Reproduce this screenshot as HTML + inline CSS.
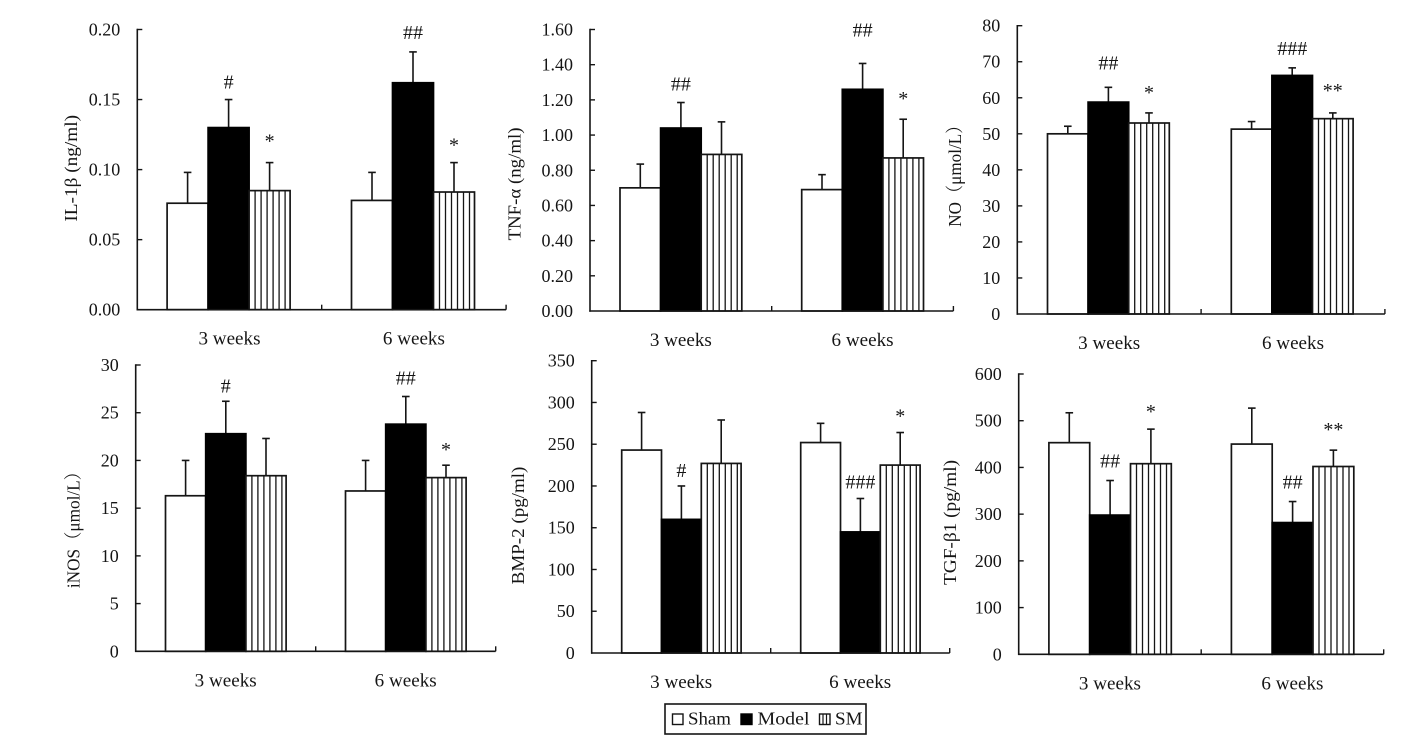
<!DOCTYPE html>
<html lang="en">
<head>
<meta charset="utf-8">
<title>Cytokine and growth factor levels at 3 and 6 weeks</title>
<style>
  html, body { margin: 0; padding: 0; background: #fff; }
  svg { display: block; }
  text { font-family: "Liberation Serif", "Noto Serif CJK SC", serif; fill: #151515; }
</style>
</head>
<body>
<svg id="figure" xmlns="http://www.w3.org/2000/svg" width="1417" height="744" viewBox="0 0 1417 744">
  <g>
    <rect x="665" y="704" width="201" height="30" fill="#fff" stroke="#151515" stroke-width="1.6"/>
    <g>
      <rect x="672.5" y="714" width="10.5" height="10.5" fill="#fff" stroke="#151515" stroke-width="1.4"/>
      <text x="688" y="724.5" font-size="18" textLength="43" lengthAdjust="spacingAndGlyphs">Sham</text>
    </g>
    <g>
      <rect x="741" y="714" width="11" height="10.5" fill="#000" stroke="#000" stroke-width="1.4"/>
      <text x="757.5" y="724.5" font-size="18" textLength="52" lengthAdjust="spacingAndGlyphs">Model</text>
    </g>
    <g>
      <rect x="819.5" y="714" width="10.5" height="10.5" fill="#fff" stroke="#151515" stroke-width="1.4"/>
      <line x1="823" y1="714" x2="823" y2="724.5" stroke="#151515" stroke-width="1.2"/>
      <line x1="826.5" y1="714" x2="826.5" y2="724.5" stroke="#151515" stroke-width="1.2"/>
      <text x="835" y="724.5" font-size="18" textLength="27.5" lengthAdjust="spacingAndGlyphs">SM</text>
    </g>
  </g>
</svg>
<script>
// Shared categories and series
const categories = ['3 weeks', '6 weeks'];
const seriesNames = ['Sham', 'Model', 'SM'];

// IL-1beta (ng/ml)
const il1bTicks = ['0.00', '0.05', '0.10', '0.15', '0.20'];
const il1bMeans = [[0.076, 0.130, 0.085], [0.078, 0.162, 0.084]];
const il1bErrors = [[0.022, 0.020, 0.020], [0.020, 0.022, 0.021]];
const il1bMarks = [['', '#', '*'], ['', '##', '*']];

// TNF-alpha (ng/ml)
const tnfTicks = ['0.00', '0.20', '0.40', '0.60', '0.80', '1.00', '1.20', '1.40', '1.60'];
const tnfMeans = [[0.70, 1.04, 0.89], [0.69, 1.26, 0.87]];
const tnfErrors = [[0.135, 0.145, 0.185], [0.085, 0.147, 0.22]];
const tnfMarks = [['', '##', ''], ['', '##', '*']];

// NO (umol/L)
const noTicks = ['0', '10', '20', '30', '40', '50', '60', '70', '80'];
const noMeans = [[50, 58.8, 53], [51.3, 66.2, 54.2]];
const noErrors = [[2.1, 4.1, 2.8], [2.1, 2.1, 1.6]];
const noMarks = [['', '##', '*'], ['', '###', '**']];

// iNOS (umol/L)
const inosTicks = ['0', '5', '10', '15', '20', '25', '30'];
const inosMeans = [[16.3, 22.8, 18.4], [16.8, 23.8, 18.2]];
const inosErrors = [[3.7, 3.4, 3.9], [3.2, 2.9, 1.3]];
const inosMarks = [['', '#', ''], ['', '##', '*']];

// BMP-2 (pg/ml)
const bmpTicks = ['0', '50', '100', '150', '200', '250', '300', '350'];
const bmpMeans = [[243, 160, 227], [252, 145, 225]];
const bmpErrors = [[45, 40, 52], [23, 40, 39]];
const bmpMarks = [['', '#', ''], ['', '###', '*']];

// TGF-beta1 (pg/ml)
const tgfTicks = ['0', '100', '200', '300', '400', '500', '600'];
const tgfMeans = [[453, 298, 408], [450, 282, 402]];
const tgfErrors = [[64, 74, 74], [77, 45, 35]];
const tgfMarks = [['', '##', '*'], ['', '##', '**']];

// Layout of each panel; data comes from the arrays above
const panels = [
  { id: 'il-1b', title: 'IL-1β (ng/ml)', ticks: il1bTicks, means: il1bMeans, errors: il1bErrors, marks: il1bMarks,
    ax: 137.3, top: 29.5, bottom: 309.7, groupW: 184.4, pad: 29.8, barW: 41,
    titleX: 77, titleY: 168.3, titleLen: 106.7, gaps: [[0, 12, 17], [0, 14, 13]] },
  { id: 'tnf-a', title: 'TNF-α (ng/ml)', ticks: tnfTicks, means: tnfMeans, errors: tnfErrors, marks: tnfMarks,
    ax: 590, top: 29.5, bottom: 311, groupW: 181.7, pad: 30, barW: 40.6,
    titleX: 520.5, titleY: 184, titleLen: 113, gaps: [[0, 13, 0], [0, 28, 16]] },
  { id: 'no', title: 'NO（μmol/L）', ticks: noTicks, means: noMeans, errors: noErrors, marks: noMarks,
    ax: 1017.3, top: 25.7, bottom: 314, groupW: 183.8, pad: 30.2, barW: 40.6,
    titleX: 961, titleY: 171.7, titleLen: 110, gaps: [[0, 19, 16], [0, 14, 18]] },
  { id: 'inos', title: 'iNOS（μmol/L）', ticks: inosTicks, means: inosMeans, errors: inosErrors, marks: inosMarks,
    ax: 135.7, top: 365, bottom: 651.3, groupW: 180, pad: 29.8, barW: 40.2,
    titleX: 79.5, titleY: 525.6, titleLen: 125, gaps: [[0, 10, 0], [0, 13, 11]] },
  { id: 'bmp-2', title: 'BMP-2 (pg/ml)', ticks: bmpTicks, means: bmpMeans, errors: bmpErrors, marks: bmpMarks,
    ax: 591.7, top: 360.7, bottom: 653, groupW: 179, pad: 30, barW: 39.8,
    titleX: 524, titleY: 525.5, titleLen: 117.7, gaps: [[0, 10, 0], [0, 11, 12]] },
  { id: 'tgf-b1', title: 'TGF-β1 (pg/ml)', ticks: tgfTicks, means: tgfMeans, errors: tgfErrors, marks: tgfMarks,
    ax: 1018.7, top: 374, bottom: 654.3, groupW: 182.5, pad: 30.2, barW: 40.8,
    titleX: 956, titleY: 522.5, titleLen: 125, gaps: [[0, 14, 13], [0, 14, 16]] }
];

const SVG_NS = 'http://www.w3.org/2000/svg';
const INK = '#151515';
const figure = document.getElementById('figure');

function make(parent, tag, name) {
  const el = document.createElementNS(SVG_NS, tag);
  
  
  parent.appendChild(el);
  return el;
}

function drawLine(parent, name, x1, y1, x2, y2, width) {
  const el = make(parent, 'line', name);
  el.setAttribute('x1', x1);
  el.setAttribute('y1', y1);
  el.setAttribute('x2', x2);
  el.setAttribute('y2', y2);
  el.setAttribute('stroke', INK);
  el.setAttribute('stroke-width', width);
  return el;
}

function drawText(parent, name, x, y, size, anchor, content) {
  const el = make(parent, 'text', name);
  el.setAttribute('x', x);
  el.setAttribute('y', y);
  el.setAttribute('font-size', size);
  el.setAttribute('text-anchor', anchor);
  el.textContent = content;
  return el;
}

function drawPanel(p) {
  const g = make(figure, 'g', 'panel-' + p.id);
  const maxValue = parseFloat(p.ticks[p.ticks.length - 1]);
  const yScale = v => p.bottom - (v / maxValue) * (p.bottom - p.top);
  const groupX = i => p.ax + i * p.groupW;
  const barX = (i, s) => groupX(i) + p.pad + s * p.barW;

  // Bars, error bars and significance marks
  categories.forEach((cat, i) => {
    seriesNames.forEach((ser, s) => {
      const label = cat.charAt(0) + 'wk-' + ser.toLowerCase();
      const x = barX(i, s);
      const top = yScale(p.means[i][s]);
      const cx = x + p.barW / 2;
      const errTop = yScale(p.means[i][s] + p.errors[i][s]);

      drawLine(g, 'error-bar-' + label, cx, top, cx, errTop, 1.6);
      drawLine(g, 'error-cap-' + label, cx - 3.8, errTop, cx + 3.8, errTop, 1.6);

      const bar = make(g, 'rect', 'bar-' + label);
      bar.setAttribute('x', x);
      bar.setAttribute('y', top);
      bar.setAttribute('width', p.barW);
      bar.setAttribute('height', p.bottom - top);
      bar.setAttribute('fill', ser === 'Model' ? '#000' : '#fff');
      bar.setAttribute('stroke', ser === 'Model' ? '#000' : INK);
      bar.setAttribute('stroke-width', 1.7);

      if (ser === 'SM') {
        for (let hx = x + 6; hx < x + p.barW - 1.5; hx += 6) {
          drawLine(g, 'bar-stripe-' + label, hx, top, hx, p.bottom, 1.3);
        }
      }

      const mark = p.marks[i][s];
      if (mark) {
        const glyphShift = mark.charAt(0) === '*' ? 2 : 1;
        drawText(g, 'significance-mark-' + label, cx, errTop - p.gaps[i][s] + glyphShift, 20, 'middle', mark);
      }
    });
  });

  // Axes
  drawLine(g, 'y-axis', p.ax, p.top - 0.7, p.ax, p.bottom + 0.7, 1.6);
  drawLine(g, 'x-axis', p.ax - 0.7, p.bottom, groupX(categories.length), p.bottom, 1.6);

  // Y ticks and labels
  p.ticks.forEach(t => {
    const y = yScale(parseFloat(t));
    if (parseFloat(t) > 0) {
      drawLine(g, 'y-tick-' + t, p.ax, y, p.ax + 5, y, 1.4);
    }
    drawText(g, 'y-tick-label-' + t, p.ax - 17, y + 6, 18, 'end', t);
  });

  // X ticks and labels
  categories.forEach((cat, i) => {
    const tx = groupX(i + 1);
    drawLine(g, 'x-tick-' + (i + 1), tx, p.bottom, tx, p.bottom - 5, 1.4);
    const lbl = drawText(g, 'x-tick-label-' + cat.replace(' ', '-'), groupX(i) + p.groupW / 2, p.bottom + 35, 18.5, 'middle', cat);
    lbl.setAttribute('textLength', 62);
    lbl.setAttribute('lengthAdjust', 'spacingAndGlyphs');
  });

  // Y axis title
  const title = drawText(g, 'y-axis-title', 0, 0, 18, 'middle', p.title);
  title.setAttribute('transform', 'translate(' + p.titleX + ' ' + p.titleY + ') rotate(-90)');
  title.setAttribute('textLength', p.titleLen);
  title.setAttribute('lengthAdjust', 'spacingAndGlyphs');
}

panels.forEach(drawPanel);
</script>
</body>
</html>
